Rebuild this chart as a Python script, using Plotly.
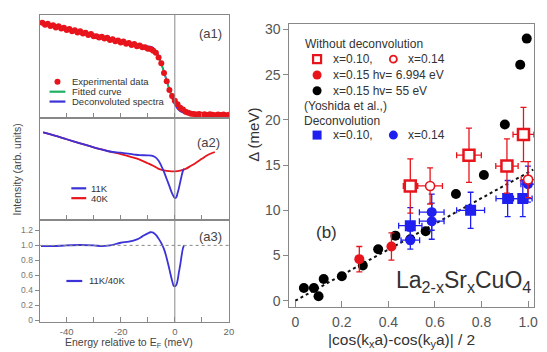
import plotly.graph_objects as go

W, H = 547, 352
FONT = "Arial, Liberation Sans, sans-serif"
RED = "#e8141c"
BLUE = "#1f1ff0"
PBLUE = "#3b32d8"
GREEN = "#20b060"
GREY = "#888888"

# ---------------- (a1) EDC ----------------
a1_exp_E = [-49, -48, -47, -46, -45, -44, -43, -42, -41, -40, -39, -38, -37, -36, -35,
            -34, -33, -32, -31, -30, -29, -28, -27, -26, -25, -24, -23, -22, -21, -20,
            -19, -18, -17, -16, -15, -14, -13, -12, -11, -10, -9, -8, -7, -6, -5, -4,
            -3, -2, -1, 0, 1, 2, 3, 4, 5, 6, 7, 8, 9, 10, 11, 12, 13, 14, 15, 16, 17,
            18, 19, 20]
a1_exp_I = [0.922, 0.903, 0.914, 0.891, 0.899, 0.876, 0.888, 0.866, 0.874, 0.853, 0.863,
            0.840, 0.850, 0.828, 0.840, 0.818, 0.825, 0.804, 0.814, 0.793, 0.792, 0.779,
            0.788, 0.769, 0.777, 0.755, 0.764, 0.744, 0.751, 0.731, 0.740, 0.720, 0.727,
            0.707, 0.716, 0.696, 0.702, 0.684, 0.684, 0.671, 0.668, 0.652, 0.633, 0.586,
            0.529, 0.436, 0.354, 0.271, 0.213, 0.165, 0.133, 0.098, 0.080, 0.058, 0.050,
            0.039, 0.037, 0.033, 0.038, 0.029, 0.035, 0.027, 0.034, 0.029, 0.025, 0.033,
            0.027, 0.032, 0.025, 0.030]
a1_fit_E = [-49, -30, -14, -11, -10, -9, -8, -7, -6, -5, -4, -3, -2, -1, 0, 1, 2, 3, 4, 5, 6, 8, 20]
a1_fit_I = [0.916, 0.800, 0.703, 0.682, 0.673, 0.665, 0.655, 0.630, 0.590, 0.525, 0.440,
            0.350, 0.275, 0.210, 0.168, 0.130, 0.100, 0.078, 0.060, 0.048, 0.040, 0.034, 0.030]
a1_dec_E = [-49, -40, -30, -20, -14, -12, -11, -10, -9, -8, -7, -6, -5, -4, -3, -2, -1,
            0, 1, 2, 3, 4, 5, 7, 10, 20]
a1_dec_I = [0.916, 0.861, 0.800, 0.739, 0.703, 0.697, 0.696, 0.695, 0.690, 0.680, 0.650,
            0.600, 0.530, 0.450, 0.360, 0.270, 0.190, 0.130, 0.090, 0.065, 0.050, 0.042,
            0.038, 0.034, 0.033, 0.033]

# ---------------- (a2) symmetrized ----------------
a2_11K_E = [-48.7, -45, -40, -35, -30, -24, -20, -15, -13, -10, -8, -7, -6, -5, -4, -3,
            -2, -1, 0, 0.5, 1, 1.5, 2, 2.5, 3, 3.4]
a2_11K_I = [0.857, 0.830, 0.790, 0.750, 0.710, 0.670, 0.658, 0.640, 0.634, 0.632, 0.625,
            0.610, 0.580, 0.530, 0.470, 0.400, 0.330, 0.260, 0.215, 0.220, 0.260, 0.310,
            0.370, 0.430, 0.480, 0.500]
a2_40K_E = [-48.7, -45, -40, -35, -30, -24, -20, -16, -13, -10, -8, -6, -4, -2, 0, 2, 4,
            6, 8, 10, 12, 14.8]
a2_40K_I = [0.857, 0.830, 0.790, 0.750, 0.710, 0.670, 0.645, 0.615, 0.590, 0.555, 0.530,
            0.500, 0.485, 0.478, 0.476, 0.482, 0.500, 0.530, 0.562, 0.598, 0.633, 0.665]

# ---------------- (a3) ratio ----------------
a3_E = [-49.5, -45, -40, -35, -30, -27, -24, -20, -17, -14, -12, -10, -9, -8, -7, -6, -5,
        -4, -3, -2, -1, -0.3, 0.5, 1, 1.5, 2, 2.5, 3, 3.4]
a3_R = [0.99, 0.99, 1.00, 1.005, 1.00, 0.99, 1.00, 1.035, 1.05, 1.08, 1.12, 1.16, 1.175,
        1.17, 1.14, 1.09, 1.03, 0.95, 0.83, 0.68, 0.53, 0.455, 0.47, 0.53, 0.64, 0.74,
        0.86, 0.96, 1.00]

E_ticks = [-50, -40, -30, -20, -10, 0, 10, 20]
E_ticktext = ["", "-40", "", "-20", "", "0", "", "20"]
R_ticks = [0, 0.2, 0.4, 0.6, 0.8, 1.0, 1.2]
R_ticktext = ["0", "0.2", "0.4", "0.6", "0.8", "1.0", "1.2"]

# ---------------- (b) gap vs d-wave function ----------------
yosh_x = [0.037, 0.08, 0.10, 0.122, 0.20, 0.29, 0.356, 0.43, 0.494, 0.56, 0.69, 0.81, 0.90, 0.966, 0.994]
yosh_y = [1.4, 1.4, 0.5, 2.4, 2.7, 3.9, 5.7, 7.2, 6.8, 7.7, 11.8, 13.9, 19.5, 26.1, 29.0]

nd010_x = [0.494, 0.746, 0.909, 0.980]
nd010_y = [12.7, 16.1, 14.9, 18.4]
nd010_ey = [3.0, 3.0, 3.0, 3.0]
nd010_ex = [0.03, 0.053, 0.048, 0.045]

nd014_x = [0.579, 1.000]
nd014_y = [12.7, 13.4]
nd014_ey = [2.0, 2.0]
nd014_ex = [0.053, 0.03]

laser_x = [0.275, 0.413]
laser_y = [4.6, 6.0]
laser_ey = [1.4, 1.5]

dc010_x = [0.494, 0.753, 0.912, 0.977]
dc010_y = [8.3, 10.0, 11.3, 11.3]
dc010_ey = [2.0, 2.0, 2.0, 2.0]
dc010_ex = [0.05, 0.06, 0.05, 0.04]

dc014_x = [0.494, 0.586, 0.586, 0.999]
dc014_y = [6.7, 9.8, 8.8, 12.9]
dc014_ey = [1.0, 2.0, 2.0, 2.0]
dc014_ex = [0.04, 0.053, 0.053, 0.03]

fit_x = [0.0, 1.022]
fit_y = [0.0, 14.5]

b_xticks = [0, 0.2, 0.4, 0.6, 0.8, 1.0]
b_xticktext = ["0", "0.2", "0.4", "0.6", "0.8", "1.0"]
b_yticks = [0, 5, 10, 15, 20, 25, 30]


def P(x, y):
    return x / W, 1 - y / H


fig = go.Figure()

# a1 traces
fig.add_trace(go.Scatter(x=a1_dec_E, y=a1_dec_I, mode="lines", line=dict(color=PBLUE, width=1.8),
                         xaxis="x", yaxis="y", showlegend=False))
fig.add_trace(go.Scatter(x=a1_fit_E, y=a1_fit_I, mode="lines", line=dict(color=GREEN, width=1.5),
                         xaxis="x", yaxis="y", showlegend=False))
fig.add_trace(go.Scatter(x=a1_exp_E, y=a1_exp_I, mode="markers",
                         marker=dict(color=RED, size=6),
                         error_y=dict(type="constant", value=0.022, color=RED, thickness=1.2, width=0),
                         xaxis="x", yaxis="y", showlegend=False))
# a2 traces
fig.add_trace(go.Scatter(x=a2_40K_E, y=a2_40K_I, mode="lines", line=dict(color=RED, width=1.8, shape="spline"),
                         xaxis="x2", yaxis="y2", showlegend=False))
fig.add_trace(go.Scatter(x=a2_11K_E, y=a2_11K_I, mode="lines", line=dict(color=PBLUE, width=1.8, shape="spline"),
                         xaxis="x2", yaxis="y2", showlegend=False))
# a3 trace
fig.add_trace(go.Scatter(x=a3_E, y=a3_R, mode="lines", line=dict(color=PBLUE, width=1.8, shape="spline"),
                         xaxis="x3", yaxis="y3", showlegend=False))

# b traces
fig.add_trace(go.Scatter(x=fit_x, y=fit_y, mode="lines", line=dict(color="#111111", width=2, dash="dot"),
                         xaxis="x4", yaxis="y4", showlegend=False))
fig.add_trace(go.Scatter(x=yosh_x, y=yosh_y, mode="markers", marker=dict(color="black", size=10),
                         xaxis="x4", yaxis="y4", showlegend=False))
fig.add_trace(go.Scatter(x=laser_x, y=laser_y, mode="markers", marker=dict(color=RED, size=10),
                         error_y=dict(type="data", array=laser_ey, color=RED, thickness=1.3, width=3),
                         xaxis="x4", yaxis="y4", showlegend=False))
fig.add_trace(go.Scatter(x=dc014_x, y=dc014_y, mode="markers", marker=dict(color=BLUE, size=10),
                         error_y=dict(type="data", array=dc014_ey, color=BLUE, thickness=1.3, width=3),
                         error_x=dict(type="data", array=dc014_ex, color=BLUE, thickness=1.3, width=3),
                         xaxis="x4", yaxis="y4", showlegend=False))
fig.add_trace(go.Scatter(x=dc010_x, y=dc010_y, mode="markers", marker=dict(color=BLUE, size=11, symbol="square"),
                         error_y=dict(type="data", array=dc010_ey, color=BLUE, thickness=1.3, width=3),
                         error_x=dict(type="data", array=dc010_ex, color=BLUE, thickness=1.3, width=3),
                         xaxis="x4", yaxis="y4", showlegend=False))
fig.add_trace(go.Scatter(x=nd014_x, y=nd014_y, mode="markers",
                         marker=dict(color="white", size=9, symbol="circle", line=dict(color=RED, width=1.6)),
                         error_y=dict(type="data", array=nd014_ey, color=RED, thickness=1.3, width=3),
                         error_x=dict(type="data", array=nd014_ex, color=RED, thickness=1.3, width=3),
                         xaxis="x4", yaxis="y4", showlegend=False))
fig.add_trace(go.Scatter(x=nd010_x, y=nd010_y, mode="markers",
                         marker=dict(color="white", size=11, symbol="square", line=dict(color=RED, width=2.5)),
                         error_y=dict(type="data", array=nd010_ey, color=RED, thickness=1.3, width=3),
                         error_x=dict(type="data", array=nd010_ex, color=RED, thickness=1.3, width=3),
                         xaxis="x4", yaxis="y4", showlegend=False))

xL = [40 / W, 231 / W]
a1_dom = [1 - 117.5 / H, 1 - 13 / H]
a2_dom = [1 - 221 / H, 1 - 117.5 / H]
a3_dom = [1 - 325 / H, 1 - 221 / H]
xR = [292 / W, 539 / W]
yR = [1 - 309 / H, 1 - 22 / H]

axis_common = dict(showline=True, linecolor=GREY, linewidth=1, mirror=True, showgrid=False,
                   zeroline=False, tickcolor=GREY, ticklen=5, tickwidth=1)
tickfont_small = dict(family=FONT, size=9.5, color="#666666")

fig.update_layout(
    width=W, height=H, margin=dict(l=0, r=0, t=0, b=0),
    paper_bgcolor="white", plot_bgcolor="white", showlegend=False,
    font=dict(family=FONT),
    xaxis=dict(domain=xL, anchor="y", range=[-50, 20], tickvals=E_ticks, ticks="inside",
               showticklabels=False, **axis_common),
    yaxis=dict(domain=a1_dom, anchor="x", range=[0, 1], ticks="", showticklabels=False, **axis_common),
    xaxis2=dict(domain=xL, anchor="y2", range=[-50, 20], tickvals=E_ticks, ticks="inside",
                showticklabels=False, **axis_common),
    yaxis2=dict(domain=a2_dom, anchor="x2", range=[0, 1], ticks="", showticklabels=False, **axis_common),
    xaxis3=dict(domain=xL, anchor="y3", range=[-50, 20], tickvals=E_ticks, ticktext=E_ticktext,
                ticks="inside", tickfont=tickfont_small, **axis_common),
    yaxis3=dict(domain=a3_dom, anchor="x3", range=[-0.026, 1.34], tickvals=R_ticks, ticktext=R_ticktext,
                ticks="outside", tickfont=dict(family=FONT, size=8.5, color="#777777"),
                **{**axis_common, "ticklen": 4}),
    yaxis5=dict(overlaying="y3", anchor="x3", side="right", range=[-0.026, 1.34], tickvals=R_ticks,
                ticks="inside", showticklabels=False, showline=False, showgrid=False, zeroline=False,
                tickcolor=GREY, ticklen=4),
    xaxis4=dict(domain=xR, anchor="y4", range=[-0.0255, 1.0255], tickvals=b_xticks, ticktext=b_xticktext,
                ticks="inside", tickfont=dict(family=FONT, size=14, color="#555555"),
                ticklabelstandoff=3, **{**axis_common, "ticklen": 6}),
    yaxis4=dict(domain=yR, anchor="x4", range=[-0.65, 30.65], tickvals=b_yticks,
                ticks="outside", tickfont=dict(family=FONT, size=14, color="#555555"),
                **{**axis_common, "ticklen": 5}),
    yaxis6=dict(overlaying="y4", anchor="x4", side="right", range=[-0.65, 30.65], tickvals=b_yticks,
                ticks="inside", showticklabels=False, showline=False, showgrid=False, zeroline=False,
                tickcolor=GREY, ticklen=6),
)

# reference lines
for xa, ya in [("x", "y"), ("x2", "y2"), ("x3", "y3")]:
    fig.add_shape(type="line", xref=xa, yref=ya + " domain", x0=0, x1=0, y0=0, y1=1,
                  line=dict(color=GREY, width=1))
fig.add_shape(type="line", xref="x3 domain", yref="y3", x0=0, x1=1, y0=1.0, y1=1.0,
              line=dict(color=GREY, width=1, dash="dot"))

ann = []


def text(x, y, s, size, color="#333333", xanchor="left", yanchor="middle", angle=0):
    px, py = P(x, y)
    ann.append(dict(x=px, y=py, xref="paper", yref="paper", text=s, showarrow=False,
                    xanchor=xanchor, yanchor=yanchor, textangle=angle,
                    font=dict(family=FONT, size=size, color=color)))


def legline(x0, x1, y, color):
    fig.add_shape(type="line", xref="paper", yref="paper", x0=x0 / W, x1=x1 / W,
                  y0=1 - y / H, y1=1 - y / H, line=dict(color=color, width=2.2))


def legsym(x, y, kind, color, r=4, fill=True, lw=2):
    fig.add_shape(type=kind, xref="paper", yref="paper", xsizemode="pixel", ysizemode="pixel",
                  xanchor=x / W, yanchor=1 - y / H, x0=-r, x1=r, y0=-r, y1=r,
                  fillcolor=color if fill else "white", line=dict(color=color, width=lw if not fill else 0))


# panel labels
text(212, 32, "(a1)", 13, "#444444", xanchor="center")
text(210, 143, "(a2)", 13, "#444444", xanchor="center")
text(212, 238, "(a3)", 13, "#444444", xanchor="center")
text(330, 234, "(b)", 17, "#333333", xanchor="center")

# a1 legend
legsym(58, 81, "circle", RED, r=3)
text(71, 81, "Experimental data", 9.5)
legline(50, 66, 91, GREEN)
text(71, 91, "Fitted curve", 9.5)
legline(50, 66, 101, PBLUE)
text(71, 101, "Deconvoluted spectra", 9.5)

# a2 legend
legline(72, 87, 189, PBLUE)
text(90, 189, "11K", 9.5)
legline(72, 87, 199, RED)
text(90, 199, "40K", 9.5)

# a3 legend
legline(67, 83, 283, PBLUE)
text(88, 283, "11K/40K", 9.5)

# axis titles left
text(17, 170, "Intensity (arb. units)", 10.5, "#444444", xanchor="center", angle=-90)
text(130, 346, "Energy relative to E<sub>F</sub> (meV)", 10.5, "#444444", xanchor="center")

# b legend
text(306, 43, "Without deconvolution", 12)
legsym(320, 58, "rect", RED, r=4, fill=False, lw=2.2)
text(334, 58, "x=0.10,", 12)
legsym(397, 58, "circle", RED, r=3.5, fill=False, lw=1.8)
text(410, 58, "x=0.14", 12)
legsym(320, 74, "circle", RED, r=4.5)
text(334, 74, "x=0.15 hv= 6.994 eV", 12)
legsym(320, 90, "circle", "black", r=4.5)
text(334, 90, "x=0.15 hv= 55 eV", 12)
text(305, 106, "(Yoshida et al.,)", 12)
text(305, 121, "Deconvolution", 12)
legsym(320, 135, "rect", BLUE, r=4.5)
text(334, 135, "x=0.10,", 12)
legsym(397, 135, "circle", BLUE, r=4.5)
text(410, 135, "x=0.14", 12)

# compound label
text(538, 284, "La<sub>2-x</sub>Sr<sub>x</sub>CuO<sub>4</sub>", 23, "#333333", xanchor="right")

# b axis titles
text(405, 343, "|cos(k<sub>x</sub>a)-cos(k<sub>y</sub>a)| / 2", 15.5, "#333333", xanchor="center")
text(255, 135, "Δ (meV)", 15, "#333333", xanchor="center", angle=-90)

fig.update_layout(annotations=ann)
fig.write_html("out.html", config={"displayModeBar": False},
               post_script="document.body.style.margin='0';document.body.style.padding='0';"
                           "document.documentElement.style.overflow='hidden';")
